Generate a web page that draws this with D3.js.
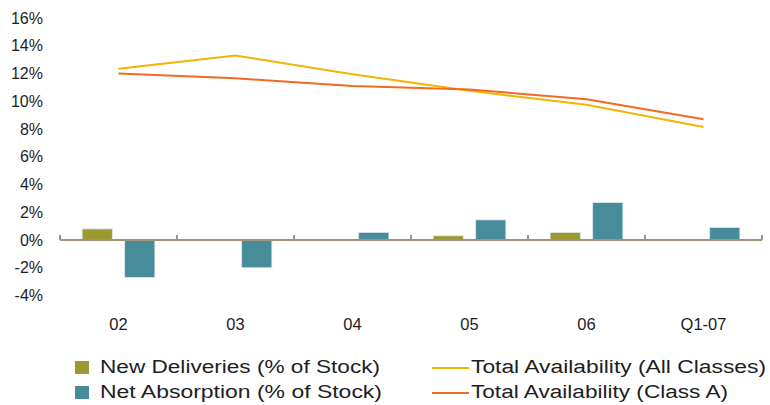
<!DOCTYPE html>
<html>
<head>
<meta charset="utf-8">
<script src="https://cdn.jsdelivr.net/npm/d3@7"></script>
<style>
  html, body { margin: 0; padding: 0; background: #ffffff; }
  svg { display: block; font-family: Arial, "Liberation Sans", sans-serif; }
</style>
</head>
<body>
<svg id="chart" width="770" height="405"></svg>
<script>
// Periods on the x axis
const categories = ["02", "03", "04", "05", "06", "Q1-07"];
// Bar series (% of stock); null = no bar for that period
const newDeliveries = [0.8, null, null, 0.3, 0.55, null];
const netAbsorption = [-2.7, -2.0, 0.55, 1.45, 2.7, 0.9];
// Line series (% availability)
const availAll = [12.35, 13.3, 11.95, 10.75, 9.75, 8.15];
const availClassA = [12.0, 11.65, 11.1, 10.85, 10.15, 8.7];
// Y axis ticks
const yTicks = [-4, -2, 0, 2, 4, 6, 8, 10, 12, 14, 16];

const colors = {
  deliveries: "#9a9a30",
  absorption: "#488b9b",
  all: "#f4b400",
  classA: "#f26a24",
  axis: "#a09478",
  text: "#1e1e1e"
};

const svg = d3.select("#chart");

const x = d3.scaleBand().domain(categories).range([60, 762]).padding(0);
const inner = d3.scaleBand().domain(["deliveries", "absorption"])
  .range([0, x.bandwidth()]).paddingInner(0.29).paddingOuter(0.52);
const y = d3.scaleLinear().domain([-4, 16]).range([295.5, 18]);

// Y tick labels (no axis line)
svg.append("g").selectAll("text").data(yTicks).join("text")
  .attr("x", 43).attr("y", d => y(d))
  .attr("dy", "0.35em")
  .attr("text-anchor", "end")
  .attr("font-size", 16)
  .attr("fill", colors.text)
  .text(d => d + "%");

// Bars
const barData = [];
categories.forEach((c, i) => {
  if (newDeliveries[i] != null) barData.push({ c, key: "deliveries", v: newDeliveries[i] });
  if (netAbsorption[i] != null) barData.push({ c, key: "absorption", v: netAbsorption[i] });
});
svg.append("g").selectAll("rect").data(barData).join("rect")
  .attr("x", d => x(d.c) + inner(d.key))
  .attr("width", inner.bandwidth())
  .attr("y", d => y(Math.max(0, d.v)))
  .attr("height", d => Math.abs(y(d.v) - y(0)))
  .attr("fill", d => colors[d.key])
  .attr("stroke", "#dbeaee")
  .attr("stroke-width", 0.8);

// Category axis at zero, with tick marks pointing up
const xAxisG = svg.append("g");
xAxisG.append("line")
  .attr("x1", x.range()[0]).attr("x2", x.range()[1])
  .attr("y1", y(0)).attr("y2", y(0))
  .attr("stroke", colors.axis).attr("stroke-width", 2);
const boundaries = categories.map(c => x(c)).concat([x.range()[1]]);
xAxisG.selectAll("line.tick").data(boundaries).join("line")
  .attr("class", "tick")
  .attr("x1", d => d).attr("x2", d => d)
  .attr("y1", y(0)).attr("y2", y(0) - 5)
  .attr("stroke", colors.axis).attr("stroke-width", 2);

// Category labels
svg.append("g").selectAll("text").data(categories).join("text")
  .attr("x", d => x(d) + x.bandwidth() / 2)
  .attr("y", 324)
  .attr("dy", "0.35em")
  .attr("text-anchor", "middle")
  .attr("font-size", 16.5)
  .attr("fill", colors.text)
  .text(d => d);

// Lines
const line = d3.line()
  .x((d, i) => x(categories[i]) + x.bandwidth() / 2)
  .y(d => y(d));
svg.append("path").datum(availAll)
  .attr("d", line).attr("fill", "none")
  .attr("stroke", colors.all).attr("stroke-width", 2);
svg.append("path").datum(availClassA)
  .attr("d", line).attr("fill", "none")
  .attr("stroke", colors.classA).attr("stroke-width", 2);

// Legend (wide lettering)
const legend = svg.append("g").attr("font-size", 18).attr("fill", colors.text);
const barLegend = [
  { label: "New Deliveries (% of Stock)", color: colors.deliveries, cy: 367, len: 280 },
  { label: "Net Absorption (% of Stock)", color: colors.absorption, cy: 392, len: 282 }
];
const lineLegend = [
  { label: "Total Availability (All Classes)", color: colors.all, cy: 367, len: 295 },
  { label: "Total Availability (Class A)", color: colors.classA, cy: 392, len: 257 }
];
barLegend.forEach(d => {
  legend.append("rect").attr("x", 75).attr("y", d.cy - 6).attr("width", 14).attr("height", 13)
    .attr("fill", d.color);
  legend.append("text").attr("x", 100).attr("y", d.cy).attr("dy", "0.35em")
    .attr("textLength", d.len).attr("lengthAdjust", "spacingAndGlyphs").text(d.label);
});
lineLegend.forEach(d => {
  legend.append("line").attr("x1", 432).attr("x2", 469).attr("y1", d.cy + 1).attr("y2", d.cy + 1)
    .attr("stroke", d.color).attr("stroke-width", 2);
  legend.append("text").attr("x", 471).attr("y", d.cy).attr("dy", "0.35em")
    .attr("textLength", d.len).attr("lengthAdjust", "spacingAndGlyphs").text(d.label);
});
</script>
</body>
</html>
